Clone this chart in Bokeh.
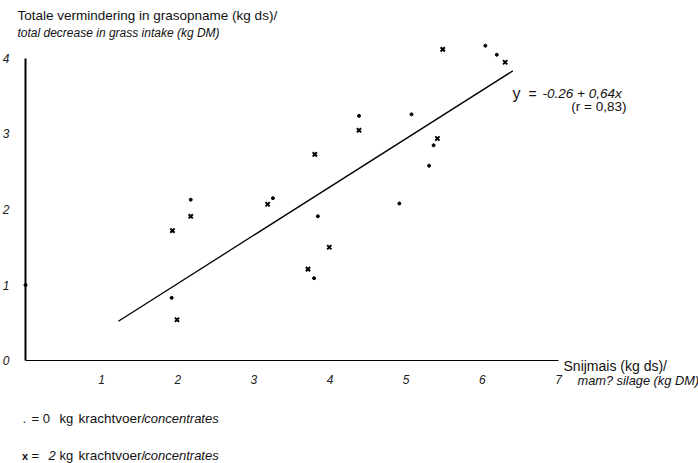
from bokeh.plotting import figure
from bokeh.models import Range1d, Label, FixedTicker
from bokeh.embed import file_html
from bokeh.resources import INLINE

# Data: maize silage intake (x) vs total decrease in grass intake (y)
dot_x = [0.0, 1.92, 2.17, 3.25, 3.79, 3.84, 4.38, 4.91, 5.07, 5.30, 5.36, 6.04, 6.19]
dot_y = [1.0, 0.83, 2.13, 2.15, 1.09, 1.91, 3.24, 2.08, 3.26, 2.58, 2.85, 4.17, 4.05]
cross_x = [1.93, 2.17, 1.99, 3.18, 3.71, 3.99, 3.80, 4.38, 5.41, 5.48, 6.30]
cross_y = [1.72, 1.91, 0.54, 2.07, 1.21, 1.50, 2.73, 3.05, 2.94, 4.12, 3.95]
reg_intercept = -0.26
reg_slope = 0.64
reg_x = [1.22, 6.40]
reg_y = [reg_intercept + reg_slope * v for v in reg_x]
x_ticks = [1, 2, 3, 4, 5, 6, 7]
y_ticks = [0, 1, 2, 3, 4]

FONT = "Liberation Sans"

p = figure(width=698, height=463, output_backend="svg", toolbar_location=None,
           x_range=Range1d(-0.3283, 8.839), y_range=Range1d(-1.364, 4.768),
           min_border=0, min_border_left=0, min_border_right=0,
           min_border_top=0, min_border_bottom=0)
p.outline_line_color = None
p.xgrid.visible = False
p.ygrid.visible = False
p.background_fill_color = "white"
p.border_fill_color = "white"

for ax in (p.xaxis[0], p.yaxis[0]):
    ax.fixed_location = 0
    ax.axis_line_color = "black"
    ax.major_tick_line_color = None
    ax.minor_tick_line_color = None
    ax.major_label_text_font = FONT
    ax.major_label_text_font_size = "12px"
    ax.major_label_text_color = "#222222"

p.xaxis[0].ticker = FixedTicker(ticks=x_ticks)
p.xaxis[0].bounds = (0, 7)
p.xaxis[0].axis_line_width = 1.2
p.xaxis[0].major_label_standoff = 8
p.xaxis[0].major_label_text_font_style = "italic"

p.yaxis[0].ticker = FixedTicker(ticks=y_ticks)
p.yaxis[0].bounds = (0, 4)
p.yaxis[0].axis_line_width = 2
p.yaxis[0].major_label_standoff = 10
p.yaxis[0].major_label_text_font_style = "italic"

# regression line
p.line(reg_x, reg_y, line_color="black", line_width=1.3)

# points
p.scatter(dot_x, dot_y, marker="circle", size=3, color="black")
p.scatter(cross_x, cross_y, marker="x", size=6, line_color="black", line_width=2)

def lab(x, y, text, size="12px", style="normal", align="left"):
    p.add_layout(Label(x=x, y=y, text=text, text_font=FONT, text_font_size=size,
                       text_font_style=style, text_color="#111111",
                       text_align=align, text_baseline="middle"))

# y-axis title
lab(-0.105, 4.57, "Totale vermindering in grasopname (kg ds)/", "13.5px")
lab(-0.105, 4.344, "total decrease in grass intake (kg DM)", "12px", "italic")

# equation
lab(6.396, 3.536, "y", "16px")
lab(6.606, 3.536, "=", "14px")
lab(6.79, 3.536, "-0.26 + 0,64x", "13.5px", "italic")
lab(7.893, 3.364, "(r = 0,83)", "13.5px", align="right")

# x-axis title
lab(7.066, -0.079, "Snijmais (kg ds)/", "14px")
lab(7.25, -0.265, "mam? silage (kg DM)", "12.8px", "italic")

# legend
row1, row2 = -0.768, -1.26
lab(-0.039, row1, ".", "13px")
lab(0.079, row1, "= 0", "13px")
lab(0.447, row1, "kg", "13px")
lab(0.696, row1, "krachtvoer/", "13.5px")
lab(1.56, row1, "concentrates", "13px", "italic")

lab(-0.045, row2, "x", "11px", "bold")
lab(0.079, row2, "=", "13px")
lab(0.302, row2, "2", "13px", "italic")
lab(0.447, row2, "kg", "13px")
lab(0.696, row2, "krachtvoer/", "13.5px")
lab(1.56, row2, "concentrates", "13px", "italic")

open("out.html", "w").write(file_html(p, INLINE))
